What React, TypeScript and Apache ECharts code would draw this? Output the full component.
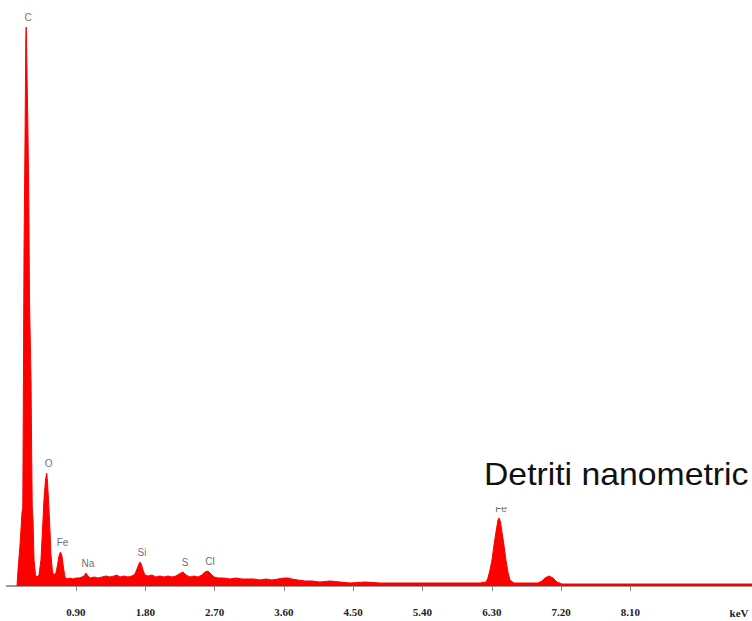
import React, { useEffect, useRef } from "react";
import * as echarts from "echarts";

// Spectrum: energy (keV) and counts (arbitrary units)
const energy: number[] = [
  0.134, 0.147, 0.173, 0.199, 0.209, 0.216, 0.225, 0.238, 0.248, 0.253, 0.261, 0.274, 0.287, 0.296,
  0.316, 0.325, 0.332, 0.342, 0.355, 0.374, 0.394, 0.419, 0.445, 0.465, 0.484, 0.504, 0.519, 0.53,
  0.543, 0.562, 0.575, 0.595, 0.614, 0.64, 0.66, 0.679, 0.699, 0.718, 0.738, 0.757, 0.783, 0.822,
  0.861, 0.9, 0.939, 0.978, 1.004, 1.03, 1.056, 1.082, 1.134, 1.186, 1.238, 1.29, 1.342, 1.394,
  1.432, 1.471, 1.523, 1.575, 1.627, 1.666, 1.692, 1.718, 1.731, 1.751, 1.77, 1.796, 1.835, 1.887,
  1.939, 1.991, 2.043, 2.095, 2.147, 2.199, 2.238, 2.29, 2.329, 2.381, 2.432, 2.484, 2.536, 2.575,
  2.614, 2.653, 2.692, 2.744, 2.822, 2.9, 2.978, 3.056, 3.134, 3.212, 3.29, 3.368, 3.445, 3.523,
  3.601, 3.653, 3.705, 3.783, 3.874, 3.965, 4.069, 4.199, 4.329, 4.458, 4.653, 4.848, 5.043, 5.238,
  5.432, 5.627, 5.822, 6.017, 6.147, 6.225, 6.251, 6.277, 6.303, 6.329, 6.355, 6.381, 6.394, 6.414,
  6.432, 6.458, 6.484, 6.51, 6.536, 6.588, 6.666, 6.796, 6.9, 6.952, 6.991, 7.043, 7.095, 7.147,
  7.212, 7.381, 7.575, 7.835, 8.095, 8.356, 8.614, 8.874, 9.135, 9.394, 9.68,
];
const counts: number[] = [
  0, 160, 410, 740, 780, 1860, 3360, 4460, 5460, 5590, 5260, 4660, 3860, 2860,
  2060, 1260, 780, 660, 260, 110, 90, 110, 260, 560, 860, 1060, 1130, 1040,
  860, 560, 310, 140, 110, 130, 210, 300, 340, 300, 180, 90, 70, 80,
  70, 80, 80, 90, 100, 130, 100, 80, 90, 80, 90, 100, 90, 100,
  110, 90, 100, 90, 100, 120, 170, 220, 240, 210, 160, 110, 100, 110,
  90, 100, 90, 100, 90, 100, 120, 140, 110, 90, 100, 90, 110, 140,
  150, 120, 90, 80, 80, 70, 80, 70, 70, 70, 60, 70, 60, 70,
  80, 80, 70, 60, 50, 50, 40, 50, 40, 30, 40, 30, 30, 30,
  30, 30, 30, 30, 30, 40, 80, 160, 260, 410, 540, 660, 680, 640,
  540, 410, 260, 140, 60, 30, 30, 30, 30, 50, 80, 100, 80, 40,
  20, 20, 20, 20, 20, 20, 20, 20, 20, 20, 20,
];

// Peak identifications
const peakNames: string[] = ["C", "O", "Fe", "Na", "Si", "S", "Cl", "Fe"];
const peakEnergies: number[] = [0.253, 0.519, 0.699, 1.03, 1.731, 2.29, 2.614, 6.394];
const peakCounts: number[] = [5590, 1130, 340, 130, 240, 140, 150, 680];

// Axis tick values (keV)
const tickValues: number[] = [0.9, 1.8, 2.7, 3.6, 4.5, 5.4, 6.3, 7.2, 8.1];
const axisUnit = "keV";
const annotation = "Detriti nanometric";

export default function App() {
  const ref = useRef<HTMLDivElement>(null);
  useEffect(() => {
    if (!ref.current) return;
    const chart = echarts.init(ref.current, undefined, { renderer: "svg" });
    const spectrum = energy.map((e, i) => [e, counts[i]]);
    const peaks = peakEnergies.map((e, i) => ({ value: [e, peakCounts[i]], name: peakNames[i] }));
    chart.setOption({
      animation: false,
      backgroundColor: "#ffffff",
      grid: { left: 6.7, right: 0, top: 27, bottom: 35 },
      xAxis: {
        type: "value",
        min: 0,
        max: 9.68,
        offset: 7,
        splitLine: { show: false },
        axisLine: { show: true, lineStyle: { color: "#9a9a9a", width: 2 } },
        axisTick: {
          show: true,
          customValues: tickValues,
          length: 5,
          lineStyle: { color: "#8a8a8a", width: 1 },
        },
        axisLabel: {
          customValues: tickValues,
          margin: 13,
          formatter: (v: number) => v.toFixed(2),
          fontFamily: "Liberation Serif",
          fontWeight: "bold",
          fontSize: 11,
          color: "#222",
        },
      },
      yAxis: {
        type: "value",
        min: 0,
        max: 5590,
        show: false,
        splitLine: { show: false },
      },
      series: [
        {
          type: "line",
          data: spectrum,
          symbol: "none",
          smooth: false,
          lineStyle: { color: "#ff0000", width: 1 },
          areaStyle: { color: "#ff0000", opacity: 1 },
          z: 2,
        },
        {
          type: "scatter",
          data: peaks,
          symbolSize: 0,
          silent: true,
          z: 3,
          label: {
            show: true,
            position: "top",
            distance: 5,
            offset: [2, 0],
            formatter: (p: any) => p.name,
            fontFamily: "Liberation Sans",
            fontSize: 10,
            color: "#444",
          },
        },
      ],
      graphic: [
        {
          type: "rect",
          z: 100,
          shape: { x: 478, y: 452, width: 274, height: 55 },
          style: { fill: "#ffffff" },
          silent: true,
        },
        {
          type: "text",
          z: 101,
          x: 484,
          y: 474,
          scaleX: 1.055,
          style: {
            text: annotation,
            font: '32px "Liberation Sans"',
            fill: "#111",
            verticalAlign: "middle",
          },
          silent: true,
        },
        {
          type: "text",
          z: 101,
          x: 739,
          y: 613,
          style: {
            text: axisUnit,
            font: 'bold 11px "Liberation Serif"',
            fill: "#222",
            align: "center",
            verticalAlign: "middle",
          },
          silent: true,
        },
      ],
    });
    return () => chart.dispose();
  }, []);
  return <div ref={ref} style={{ width: 752, height: 621, position: "absolute", left: 0, top: 0 }} />;
}
